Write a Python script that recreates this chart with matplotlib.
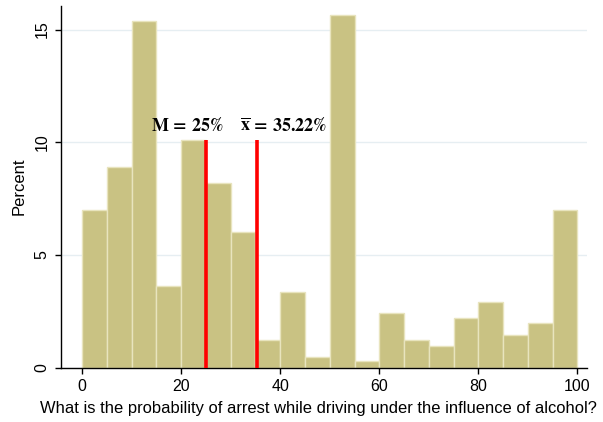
import matplotlib
matplotlib.use("Agg")
import matplotlib.pyplot as plt
import numpy as np

plt.rcParams["font.family"] = ["Liberation Sans", "DejaVu Sans"]
plt.rcParams["mathtext.fontset"] = "stix"

# histogram bins (width 5) and percent heights
bin_edges = list(range(0, 105, 5))
percent = [7.0, 8.92, 15.4, 3.63, 10.09, 8.2, 6.02, 1.22, 3.37, 0.49,
           15.65, 0.27, 2.41, 1.23, 0.96, 2.19, 2.9, 1.45, 1.97, 7.0]

median_val = 25.0
mean_val = 35.22
line_top = 10.09

x_ticks = [0, 20, 40, 60, 80, 100]
y_ticks = [0, 5, 10, 15]

BAR_COLOR = "#c9c283"
EDGE_COLOR = "#e8e4be"
GRID_COLOR = "#e6eef2"

fig = plt.figure(figsize=(6.03, 4.22), dpi=100)
ax = fig.add_axes([0.101, 0.129, 0.872, 0.857])

left = np.array(bin_edges[:-1], dtype=float)
width = np.diff(bin_edges)
ax.bar(left, percent, width=width, align="edge", color=BAR_COLOR,
       edgecolor=EDGE_COLOR, linewidth=1.0, zorder=2)

ax.vlines([median_val, mean_val], 0, line_top, color="#ff0000", linewidth=2.6, zorder=3)

ax.text(21.2, 10.7, r"$\mathbf{M\,=\,25\%}$", ha="center", va="center",
        fontsize=13, zorder=4)
ax.text(40.7, 10.7, r"$\mathbf{\overline{x}\,=\,35.22\%}$", ha="center", va="center",
        fontsize=13, zorder=4)

ax.set_xlim(-4.3, 101.9)
ax.set_ylim(0, 16.05)
ax.set_xticks(x_ticks)
ax.set_yticks(y_ticks)
ax.set_axisbelow(True)
ax.yaxis.grid(True, color=GRID_COLOR, linewidth=1.0)
ax.tick_params(axis="both", direction="out", length=4.5, width=1.0, labelsize=11.5, colors="black")
for lbl in ax.get_yticklabels():
    lbl.set_rotation(90)
    lbl.set_va("center")
for side in ("top", "right"):
    ax.spines[side].set_visible(False)
for side in ("left", "bottom"):
    ax.spines[side].set_linewidth(1.0)

ax.set_ylabel("Percent", fontsize=12, labelpad=6)
ax.set_xlabel("What is the probability of arrest while driving under the influence of alcohol?",
              fontsize=11.9, labelpad=5)
ax.xaxis.label.set_x(0.4895)

fig.savefig("out.png", dpi=100)
